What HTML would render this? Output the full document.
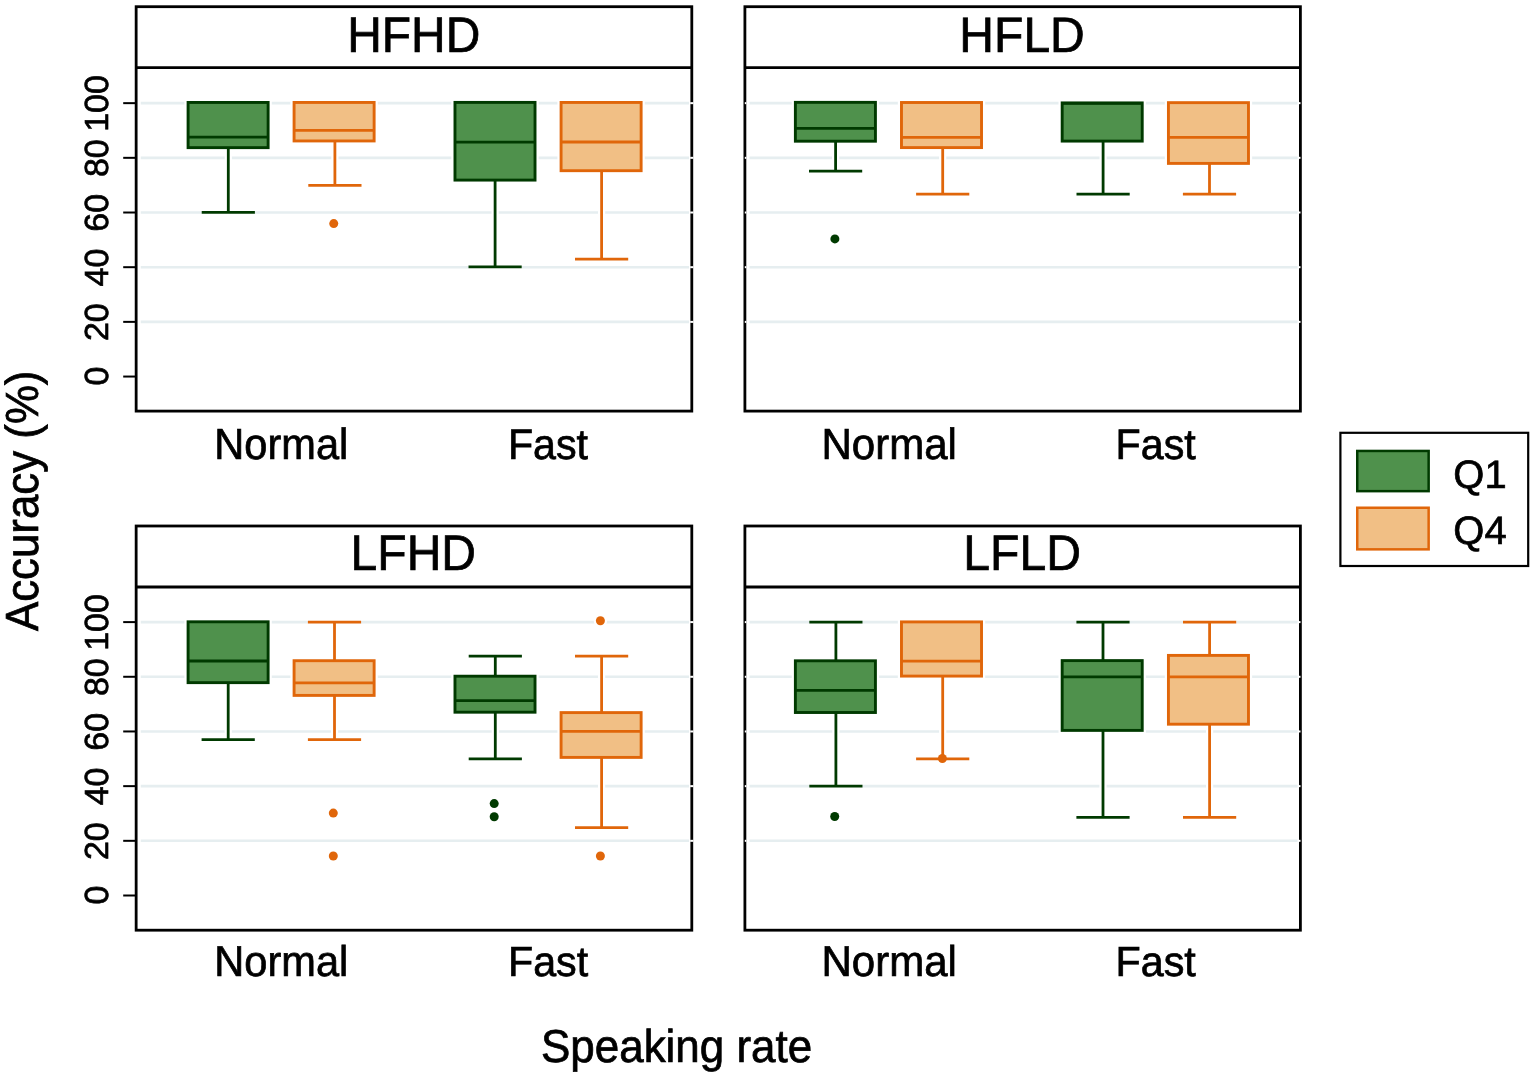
<!DOCTYPE html><html><head><meta charset="utf-8"><title>Accuracy by speaking rate</title>
<style>html,body{margin:0;padding:0;background:#fff;overflow:hidden;}svg{display:block;}text{text-rendering:geometricPrecision;font-family:"Liberation Sans", Arial, Helvetica, sans-serif;fill:#000;stroke:#000;stroke-width:0.7px;}</style></head><body>
<svg width="1535" height="1078" viewBox="0 0 1535 1078">
<rect x="0" y="0" width="1535" height="1078" fill="#fff"/>
<line x1="140.75" y1="321.87" x2="689" y2="321.87" stroke="#e6eef0" stroke-width="2.6"/>
<line x1="140.75" y1="267.19" x2="689" y2="267.19" stroke="#e6eef0" stroke-width="2.6"/>
<line x1="140.75" y1="212.51" x2="689" y2="212.51" stroke="#e6eef0" stroke-width="2.6"/>
<line x1="140.75" y1="157.83" x2="689" y2="157.83" stroke="#e6eef0" stroke-width="2.6"/>
<line x1="140.75" y1="103.15" x2="689" y2="103.15" stroke="#e6eef0" stroke-width="2.6"/>
<line x1="228.3" y1="147.65" x2="228.3" y2="212.4" stroke="#fff" stroke-width="7.2"/>
<line x1="201.7" y1="212.4" x2="254.9" y2="212.4" stroke="#fff" stroke-width="7.2"/>
<rect x="188.075" y="102.45" width="80.05" height="45.2" fill="#fff" stroke="#fff" stroke-width="7.3"/>
<line x1="228.3" y1="147.65" x2="228.3" y2="212.4" stroke="#003a00" stroke-width="2.8"/>
<line x1="201.7" y1="212.4" x2="254.9" y2="212.4" stroke="#003a00" stroke-width="2.8"/>
<rect x="188.075" y="102.45" width="80.05" height="45.2" fill="#4f914c" stroke="#003a00" stroke-width="2.9"/>
<line x1="188.075" y1="137.1" x2="268.125" y2="137.1" stroke="#003a00" stroke-width="2.8"/>
<line x1="334.9" y1="140.95" x2="334.9" y2="185.3" stroke="#fff" stroke-width="7.2"/>
<line x1="308.3" y1="185.3" x2="361.5" y2="185.3" stroke="#fff" stroke-width="7.2"/>
<rect x="294.075" y="102.45" width="80.05" height="38.5" fill="#fff" stroke="#fff" stroke-width="7.3"/>
<circle cx="333.75" cy="223.6" r="6.7" fill="#fff"/>
<line x1="334.9" y1="140.95" x2="334.9" y2="185.3" stroke="#e0660a" stroke-width="2.8"/>
<line x1="308.3" y1="185.3" x2="361.5" y2="185.3" stroke="#e0660a" stroke-width="2.8"/>
<rect x="294.075" y="102.45" width="80.05" height="38.5" fill="#f1bf85" stroke="#e0660a" stroke-width="2.9"/>
<line x1="294.075" y1="130.4" x2="374.125" y2="130.4" stroke="#e0660a" stroke-width="2.8"/>
<circle cx="333.75" cy="223.6" r="4.5" fill="#e0660a"/>
<line x1="495.1" y1="180.1" x2="495.1" y2="266.9" stroke="#fff" stroke-width="7.2"/>
<line x1="468.5" y1="266.9" x2="521.7" y2="266.9" stroke="#fff" stroke-width="7.2"/>
<rect x="454.975" y="102.4" width="80.05" height="77.7" fill="#fff" stroke="#fff" stroke-width="7.3"/>
<line x1="495.1" y1="180.1" x2="495.1" y2="266.9" stroke="#003a00" stroke-width="2.8"/>
<line x1="468.5" y1="266.9" x2="521.7" y2="266.9" stroke="#003a00" stroke-width="2.8"/>
<rect x="454.975" y="102.4" width="80.05" height="77.7" fill="#4f914c" stroke="#003a00" stroke-width="2.9"/>
<line x1="454.975" y1="142.1" x2="535.025" y2="142.1" stroke="#003a00" stroke-width="2.8"/>
<line x1="601.6" y1="170.7" x2="601.6" y2="259.2" stroke="#fff" stroke-width="7.2"/>
<line x1="575" y1="259.2" x2="628.2" y2="259.2" stroke="#fff" stroke-width="7.2"/>
<rect x="561.075" y="102.45" width="80.05" height="68.25" fill="#fff" stroke="#fff" stroke-width="7.3"/>
<line x1="601.6" y1="170.7" x2="601.6" y2="259.2" stroke="#e0660a" stroke-width="2.8"/>
<line x1="575" y1="259.2" x2="628.2" y2="259.2" stroke="#e0660a" stroke-width="2.8"/>
<rect x="561.075" y="102.45" width="80.05" height="68.25" fill="#f1bf85" stroke="#e0660a" stroke-width="2.9"/>
<line x1="561.075" y1="142" x2="641.125" y2="142" stroke="#e0660a" stroke-width="2.8"/>
<rect x="136.15" y="6.7" width="555.65" height="404.4" fill="none" stroke="#000" stroke-width="2.8"/>
<line x1="136.15" y1="67.6" x2="691.8" y2="67.6" stroke="#000" stroke-width="2.8"/>
<rect x="690.2" y="320.87" width="3.2" height="2" fill="#fff"/>
<rect x="690.2" y="266.19" width="3.2" height="2" fill="#fff"/>
<rect x="690.2" y="211.51" width="3.2" height="2" fill="#fff"/>
<rect x="690.2" y="156.83" width="3.2" height="2" fill="#fff"/>
<rect x="690.2" y="102.15" width="3.2" height="2" fill="#fff"/>
<text transform="translate(413.778,52.13) scale(0.998,1.038)" font-size="48" text-anchor="middle">HFHD</text>
<line x1="123.2" y1="376.55" x2="136.15" y2="376.55" stroke="#000" stroke-width="2.0"/>
<text transform="translate(107.908,376.063) rotate(-90) scale(0.998,0.982)" font-size="34" text-anchor="middle">0</text>
<line x1="123.2" y1="321.87" x2="136.15" y2="321.87" stroke="#000" stroke-width="2.0"/>
<text transform="translate(107.908,322.233) rotate(-90) scale(0.998,0.982)" font-size="34" text-anchor="middle">20</text>
<line x1="123.2" y1="267.19" x2="136.15" y2="267.19" stroke="#000" stroke-width="2.0"/>
<text transform="translate(107.908,267.553) rotate(-90) scale(0.998,0.982)" font-size="34" text-anchor="middle">40</text>
<line x1="123.2" y1="212.51" x2="136.15" y2="212.51" stroke="#000" stroke-width="2.0"/>
<text transform="translate(107.908,212.873) rotate(-90) scale(0.998,0.982)" font-size="34" text-anchor="middle">60</text>
<line x1="123.2" y1="157.83" x2="136.15" y2="157.83" stroke="#000" stroke-width="2.0"/>
<text transform="translate(107.908,158.193) rotate(-90) scale(0.998,0.982)" font-size="34" text-anchor="middle">80</text>
<line x1="123.2" y1="103.15" x2="136.15" y2="103.15" stroke="#000" stroke-width="2.0"/>
<text transform="translate(107.908,103.513) rotate(-90) scale(0.998,0.982)" font-size="34" text-anchor="middle">100</text>
<text transform="translate(281.295,458.929) scale(0.989,1.038)" font-size="42" text-anchor="middle">Normal</text>
<text transform="translate(548.006,458.734) scale(0.981,1.016)" font-size="42" text-anchor="middle">Fast</text>
<line x1="749.5" y1="321.87" x2="1297.6" y2="321.87" stroke="#e6eef0" stroke-width="2.6"/>
<line x1="749.5" y1="267.19" x2="1297.6" y2="267.19" stroke="#e6eef0" stroke-width="2.6"/>
<line x1="749.5" y1="212.51" x2="1297.6" y2="212.51" stroke="#e6eef0" stroke-width="2.6"/>
<line x1="749.5" y1="157.83" x2="1297.6" y2="157.83" stroke="#e6eef0" stroke-width="2.6"/>
<line x1="749.5" y1="103.15" x2="1297.6" y2="103.15" stroke="#e6eef0" stroke-width="2.6"/>
<line x1="835.6" y1="141.2" x2="835.6" y2="171.2" stroke="#fff" stroke-width="7.2"/>
<line x1="809" y1="171.2" x2="862.2" y2="171.2" stroke="#fff" stroke-width="7.2"/>
<rect x="795.375" y="102.35" width="80.05" height="38.85" fill="#fff" stroke="#fff" stroke-width="7.3"/>
<circle cx="834.9" cy="238.9" r="6.7" fill="#fff"/>
<line x1="835.6" y1="141.2" x2="835.6" y2="171.2" stroke="#003a00" stroke-width="2.8"/>
<line x1="809" y1="171.2" x2="862.2" y2="171.2" stroke="#003a00" stroke-width="2.8"/>
<rect x="795.375" y="102.35" width="80.05" height="38.85" fill="#4f914c" stroke="#003a00" stroke-width="2.9"/>
<line x1="795.375" y1="128.3" x2="875.425" y2="128.3" stroke="#003a00" stroke-width="2.8"/>
<circle cx="834.9" cy="238.9" r="4.5" fill="#003a00"/>
<line x1="942.7" y1="147.6" x2="942.7" y2="194.2" stroke="#fff" stroke-width="7.2"/>
<line x1="916.1" y1="194.2" x2="969.3" y2="194.2" stroke="#fff" stroke-width="7.2"/>
<rect x="901.475" y="102.5" width="80.05" height="45.1" fill="#fff" stroke="#fff" stroke-width="7.3"/>
<line x1="942.7" y1="147.6" x2="942.7" y2="194.2" stroke="#e0660a" stroke-width="2.8"/>
<line x1="916.1" y1="194.2" x2="969.3" y2="194.2" stroke="#e0660a" stroke-width="2.8"/>
<rect x="901.475" y="102.5" width="80.05" height="45.1" fill="#f1bf85" stroke="#e0660a" stroke-width="2.9"/>
<line x1="901.475" y1="137.3" x2="981.525" y2="137.3" stroke="#e0660a" stroke-width="2.8"/>
<line x1="1103.1" y1="141.1" x2="1103.1" y2="194.2" stroke="#fff" stroke-width="7.2"/>
<line x1="1076.5" y1="194.2" x2="1129.7" y2="194.2" stroke="#fff" stroke-width="7.2"/>
<rect x="1062.175" y="102.9" width="80.05" height="38.2" fill="#fff" stroke="#fff" stroke-width="7.3"/>
<line x1="1103.1" y1="141.1" x2="1103.1" y2="194.2" stroke="#003a00" stroke-width="2.8"/>
<line x1="1076.5" y1="194.2" x2="1129.7" y2="194.2" stroke="#003a00" stroke-width="2.8"/>
<rect x="1062.175" y="102.9" width="80.05" height="38.2" fill="#4f914c" stroke="#003a00" stroke-width="2.9"/>
<line x1="1062.175" y1="103.4" x2="1142.225" y2="103.4" stroke="#003a00" stroke-width="2.8"/>
<line x1="1209.5" y1="163.4" x2="1209.5" y2="194.2" stroke="#fff" stroke-width="7.2"/>
<line x1="1182.9" y1="194.2" x2="1236.1" y2="194.2" stroke="#fff" stroke-width="7.2"/>
<rect x="1168.425" y="102.65" width="80.05" height="60.75" fill="#fff" stroke="#fff" stroke-width="7.3"/>
<line x1="1209.5" y1="163.4" x2="1209.5" y2="194.2" stroke="#e0660a" stroke-width="2.8"/>
<line x1="1182.9" y1="194.2" x2="1236.1" y2="194.2" stroke="#e0660a" stroke-width="2.8"/>
<rect x="1168.425" y="102.65" width="80.05" height="60.75" fill="#f1bf85" stroke="#e0660a" stroke-width="2.9"/>
<line x1="1168.425" y1="137.3" x2="1248.475" y2="137.3" stroke="#e0660a" stroke-width="2.8"/>
<rect x="744.9" y="6.7" width="555.5" height="404.4" fill="none" stroke="#000" stroke-width="2.8"/>
<line x1="744.9" y1="67.6" x2="1300.4" y2="67.6" stroke="#000" stroke-width="2.8"/>
<rect x="1298.8" y="320.87" width="1.7" height="2" fill="#fff"/>
<rect x="744.8" y="320.87" width="1.5" height="2" fill="#fff"/>
<rect x="1298.8" y="266.19" width="1.7" height="2" fill="#fff"/>
<rect x="744.8" y="266.19" width="1.5" height="2" fill="#fff"/>
<rect x="1298.8" y="211.51" width="1.7" height="2" fill="#fff"/>
<rect x="744.8" y="211.51" width="1.5" height="2" fill="#fff"/>
<rect x="1298.8" y="156.83" width="1.7" height="2" fill="#fff"/>
<rect x="744.8" y="156.83" width="1.5" height="2" fill="#fff"/>
<rect x="1298.8" y="102.15" width="1.7" height="2" fill="#fff"/>
<rect x="744.8" y="102.15" width="1.5" height="2" fill="#fff"/>
<text transform="translate(1022.074,52.133) scale(1.001,1.036)" font-size="48" text-anchor="middle">HFLD</text>
<text transform="translate(889.186,458.929) scale(1.001,1.038)" font-size="42" text-anchor="middle">Normal</text>
<text transform="translate(1155.681,458.734) scale(0.981,1.016)" font-size="42" text-anchor="middle">Fast</text>
<line x1="140.75" y1="840.82" x2="689" y2="840.82" stroke="#e6eef0" stroke-width="2.6"/>
<line x1="140.75" y1="786.14" x2="689" y2="786.14" stroke="#e6eef0" stroke-width="2.6"/>
<line x1="140.75" y1="731.46" x2="689" y2="731.46" stroke="#e6eef0" stroke-width="2.6"/>
<line x1="140.75" y1="676.78" x2="689" y2="676.78" stroke="#e6eef0" stroke-width="2.6"/>
<line x1="140.75" y1="622.1" x2="689" y2="622.1" stroke="#e6eef0" stroke-width="2.6"/>
<line x1="228.2" y1="682.65" x2="228.2" y2="739.6" stroke="#fff" stroke-width="7.2"/>
<line x1="201.6" y1="739.6" x2="254.8" y2="739.6" stroke="#fff" stroke-width="7.2"/>
<rect x="188.075" y="621.8" width="80.05" height="60.85" fill="#fff" stroke="#fff" stroke-width="7.3"/>
<line x1="228.2" y1="682.65" x2="228.2" y2="739.6" stroke="#003a00" stroke-width="2.8"/>
<line x1="201.6" y1="739.6" x2="254.8" y2="739.6" stroke="#003a00" stroke-width="2.8"/>
<rect x="188.075" y="621.8" width="80.05" height="60.85" fill="#4f914c" stroke="#003a00" stroke-width="2.9"/>
<line x1="188.075" y1="661" x2="268.125" y2="661" stroke="#003a00" stroke-width="2.8"/>
<line x1="334.5" y1="622.1" x2="334.5" y2="660.7" stroke="#fff" stroke-width="7.2"/>
<line x1="307.9" y1="622.1" x2="361.1" y2="622.1" stroke="#fff" stroke-width="7.2"/>
<line x1="334.5" y1="695.4" x2="334.5" y2="739.6" stroke="#fff" stroke-width="7.2"/>
<line x1="307.9" y1="739.6" x2="361.1" y2="739.6" stroke="#fff" stroke-width="7.2"/>
<rect x="294.075" y="660.7" width="80.05" height="34.7" fill="#fff" stroke="#fff" stroke-width="7.3"/>
<circle cx="333.3" cy="813.1" r="6.7" fill="#fff"/>
<circle cx="333.3" cy="856" r="6.7" fill="#fff"/>
<line x1="334.5" y1="622.1" x2="334.5" y2="660.7" stroke="#e0660a" stroke-width="2.8"/>
<line x1="307.9" y1="622.1" x2="361.1" y2="622.1" stroke="#e0660a" stroke-width="2.8"/>
<line x1="334.5" y1="695.4" x2="334.5" y2="739.6" stroke="#e0660a" stroke-width="2.8"/>
<line x1="307.9" y1="739.6" x2="361.1" y2="739.6" stroke="#e0660a" stroke-width="2.8"/>
<rect x="294.075" y="660.7" width="80.05" height="34.7" fill="#f1bf85" stroke="#e0660a" stroke-width="2.9"/>
<line x1="294.075" y1="682.9" x2="374.125" y2="682.9" stroke="#e0660a" stroke-width="2.8"/>
<circle cx="333.3" cy="813.1" r="4.5" fill="#e0660a"/>
<circle cx="333.3" cy="856" r="4.5" fill="#e0660a"/>
<line x1="495.3" y1="656.1" x2="495.3" y2="676.2" stroke="#fff" stroke-width="7.2"/>
<line x1="468.7" y1="656.1" x2="521.9" y2="656.1" stroke="#fff" stroke-width="7.2"/>
<line x1="495.3" y1="712.2" x2="495.3" y2="758.85" stroke="#fff" stroke-width="7.2"/>
<line x1="468.7" y1="758.85" x2="521.9" y2="758.85" stroke="#fff" stroke-width="7.2"/>
<rect x="454.975" y="676.2" width="80.05" height="36" fill="#fff" stroke="#fff" stroke-width="7.3"/>
<circle cx="494.2" cy="803.6" r="6.7" fill="#fff"/>
<circle cx="494.2" cy="816.8" r="6.7" fill="#fff"/>
<line x1="495.3" y1="656.1" x2="495.3" y2="676.2" stroke="#003a00" stroke-width="2.8"/>
<line x1="468.7" y1="656.1" x2="521.9" y2="656.1" stroke="#003a00" stroke-width="2.8"/>
<line x1="495.3" y1="712.2" x2="495.3" y2="758.85" stroke="#003a00" stroke-width="2.8"/>
<line x1="468.7" y1="758.85" x2="521.9" y2="758.85" stroke="#003a00" stroke-width="2.8"/>
<rect x="454.975" y="676.2" width="80.05" height="36" fill="#4f914c" stroke="#003a00" stroke-width="2.9"/>
<line x1="454.975" y1="700.55" x2="535.025" y2="700.55" stroke="#003a00" stroke-width="2.8"/>
<circle cx="494.2" cy="803.6" r="4.5" fill="#003a00"/>
<circle cx="494.2" cy="816.8" r="4.5" fill="#003a00"/>
<line x1="601.6" y1="656.1" x2="601.6" y2="712.6" stroke="#fff" stroke-width="7.2"/>
<line x1="575" y1="656.1" x2="628.2" y2="656.1" stroke="#fff" stroke-width="7.2"/>
<line x1="601.6" y1="757.4" x2="601.6" y2="827.6" stroke="#fff" stroke-width="7.2"/>
<line x1="575" y1="827.6" x2="628.2" y2="827.6" stroke="#fff" stroke-width="7.2"/>
<rect x="561.075" y="712.6" width="80.05" height="44.8" fill="#fff" stroke="#fff" stroke-width="7.3"/>
<circle cx="600.4" cy="620.8" r="6.7" fill="#fff"/>
<circle cx="600.4" cy="856" r="6.7" fill="#fff"/>
<line x1="601.6" y1="656.1" x2="601.6" y2="712.6" stroke="#e0660a" stroke-width="2.8"/>
<line x1="575" y1="656.1" x2="628.2" y2="656.1" stroke="#e0660a" stroke-width="2.8"/>
<line x1="601.6" y1="757.4" x2="601.6" y2="827.6" stroke="#e0660a" stroke-width="2.8"/>
<line x1="575" y1="827.6" x2="628.2" y2="827.6" stroke="#e0660a" stroke-width="2.8"/>
<rect x="561.075" y="712.6" width="80.05" height="44.8" fill="#f1bf85" stroke="#e0660a" stroke-width="2.9"/>
<line x1="561.075" y1="731.4" x2="641.125" y2="731.4" stroke="#e0660a" stroke-width="2.8"/>
<circle cx="600.4" cy="620.8" r="4.5" fill="#e0660a"/>
<circle cx="600.4" cy="856" r="4.5" fill="#e0660a"/>
<rect x="136.15" y="526" width="555.65" height="404.2" fill="none" stroke="#000" stroke-width="2.8"/>
<line x1="136.15" y1="587" x2="691.8" y2="587" stroke="#000" stroke-width="2.8"/>
<rect x="690.2" y="839.82" width="3.2" height="2" fill="#fff"/>
<rect x="690.2" y="785.14" width="3.2" height="2" fill="#fff"/>
<rect x="690.2" y="730.46" width="3.2" height="2" fill="#fff"/>
<rect x="690.2" y="675.78" width="3.2" height="2" fill="#fff"/>
<rect x="690.2" y="621.1" width="3.2" height="2" fill="#fff"/>
<text transform="translate(413.303,570.13) scale(1.001,1.038)" font-size="48" text-anchor="middle">LFHD</text>
<line x1="123.2" y1="895.5" x2="136.15" y2="895.5" stroke="#000" stroke-width="2.0"/>
<text transform="translate(107.908,895.013) rotate(-90) scale(0.998,0.982)" font-size="34" text-anchor="middle">0</text>
<line x1="123.2" y1="840.82" x2="136.15" y2="840.82" stroke="#000" stroke-width="2.0"/>
<text transform="translate(107.908,841.183) rotate(-90) scale(0.998,0.982)" font-size="34" text-anchor="middle">20</text>
<line x1="123.2" y1="786.14" x2="136.15" y2="786.14" stroke="#000" stroke-width="2.0"/>
<text transform="translate(107.908,786.503) rotate(-90) scale(0.998,0.982)" font-size="34" text-anchor="middle">40</text>
<line x1="123.2" y1="731.46" x2="136.15" y2="731.46" stroke="#000" stroke-width="2.0"/>
<text transform="translate(107.908,731.823) rotate(-90) scale(0.998,0.982)" font-size="34" text-anchor="middle">60</text>
<line x1="123.2" y1="676.78" x2="136.15" y2="676.78" stroke="#000" stroke-width="2.0"/>
<text transform="translate(107.908,677.143) rotate(-90) scale(0.998,0.982)" font-size="34" text-anchor="middle">80</text>
<line x1="123.2" y1="622.1" x2="136.15" y2="622.1" stroke="#000" stroke-width="2.0"/>
<text transform="translate(107.908,622.463) rotate(-90) scale(0.998,0.982)" font-size="34" text-anchor="middle">100</text>
<text transform="translate(281.301,976.327) scale(0.989,1.023)" font-size="42" text-anchor="middle">Normal</text>
<text transform="translate(548.041,976.351) scale(0.982,1.002)" font-size="42" text-anchor="middle">Fast</text>
<line x1="749.5" y1="840.82" x2="1297.6" y2="840.82" stroke="#e6eef0" stroke-width="2.6"/>
<line x1="749.5" y1="786.14" x2="1297.6" y2="786.14" stroke="#e6eef0" stroke-width="2.6"/>
<line x1="749.5" y1="731.46" x2="1297.6" y2="731.46" stroke="#e6eef0" stroke-width="2.6"/>
<line x1="749.5" y1="676.78" x2="1297.6" y2="676.78" stroke="#e6eef0" stroke-width="2.6"/>
<line x1="749.5" y1="622.1" x2="1297.6" y2="622.1" stroke="#e6eef0" stroke-width="2.6"/>
<line x1="835.9" y1="622.1" x2="835.9" y2="660.8" stroke="#fff" stroke-width="7.2"/>
<line x1="809.3" y1="622.1" x2="862.5" y2="622.1" stroke="#fff" stroke-width="7.2"/>
<line x1="835.9" y1="712.5" x2="835.9" y2="786.1" stroke="#fff" stroke-width="7.2"/>
<line x1="809.3" y1="786.1" x2="862.5" y2="786.1" stroke="#fff" stroke-width="7.2"/>
<rect x="795.375" y="660.8" width="80.05" height="51.7" fill="#fff" stroke="#fff" stroke-width="7.3"/>
<circle cx="834.7" cy="816.5" r="6.7" fill="#fff"/>
<line x1="835.9" y1="622.1" x2="835.9" y2="660.8" stroke="#003a00" stroke-width="2.8"/>
<line x1="809.3" y1="622.1" x2="862.5" y2="622.1" stroke="#003a00" stroke-width="2.8"/>
<line x1="835.9" y1="712.5" x2="835.9" y2="786.1" stroke="#003a00" stroke-width="2.8"/>
<line x1="809.3" y1="786.1" x2="862.5" y2="786.1" stroke="#003a00" stroke-width="2.8"/>
<rect x="795.375" y="660.8" width="80.05" height="51.7" fill="#4f914c" stroke="#003a00" stroke-width="2.9"/>
<line x1="795.375" y1="690.35" x2="875.425" y2="690.35" stroke="#003a00" stroke-width="2.8"/>
<circle cx="834.7" cy="816.5" r="4.5" fill="#003a00"/>
<line x1="942.7" y1="676.1" x2="942.7" y2="758.8" stroke="#fff" stroke-width="7.2"/>
<line x1="916.1" y1="758.8" x2="969.3" y2="758.8" stroke="#fff" stroke-width="7.2"/>
<rect x="901.475" y="621.9" width="80.05" height="54.2" fill="#fff" stroke="#fff" stroke-width="7.3"/>
<circle cx="942.4" cy="758.5" r="6.7" fill="#fff"/>
<line x1="942.7" y1="676.1" x2="942.7" y2="758.8" stroke="#e0660a" stroke-width="2.8"/>
<line x1="916.1" y1="758.8" x2="969.3" y2="758.8" stroke="#e0660a" stroke-width="2.8"/>
<rect x="901.475" y="621.9" width="80.05" height="54.2" fill="#f1bf85" stroke="#e0660a" stroke-width="2.9"/>
<line x1="901.475" y1="661.1" x2="981.525" y2="661.1" stroke="#e0660a" stroke-width="2.8"/>
<circle cx="942.4" cy="758.5" r="4.5" fill="#e0660a"/>
<line x1="1103" y1="622.1" x2="1103" y2="660.6" stroke="#fff" stroke-width="7.2"/>
<line x1="1076.4" y1="622.1" x2="1129.6" y2="622.1" stroke="#fff" stroke-width="7.2"/>
<line x1="1103" y1="730.4" x2="1103" y2="817.3" stroke="#fff" stroke-width="7.2"/>
<line x1="1076.4" y1="817.3" x2="1129.6" y2="817.3" stroke="#fff" stroke-width="7.2"/>
<rect x="1062.175" y="660.6" width="80.05" height="69.8" fill="#fff" stroke="#fff" stroke-width="7.3"/>
<line x1="1103" y1="622.1" x2="1103" y2="660.6" stroke="#003a00" stroke-width="2.8"/>
<line x1="1076.4" y1="622.1" x2="1129.6" y2="622.1" stroke="#003a00" stroke-width="2.8"/>
<line x1="1103" y1="730.4" x2="1103" y2="817.3" stroke="#003a00" stroke-width="2.8"/>
<line x1="1076.4" y1="817.3" x2="1129.6" y2="817.3" stroke="#003a00" stroke-width="2.8"/>
<rect x="1062.175" y="660.6" width="80.05" height="69.8" fill="#4f914c" stroke="#003a00" stroke-width="2.9"/>
<line x1="1062.175" y1="676.8" x2="1142.225" y2="676.8" stroke="#003a00" stroke-width="2.8"/>
<line x1="1209.6" y1="622.1" x2="1209.6" y2="655.4" stroke="#fff" stroke-width="7.2"/>
<line x1="1183" y1="622.1" x2="1236.2" y2="622.1" stroke="#fff" stroke-width="7.2"/>
<line x1="1209.6" y1="724.2" x2="1209.6" y2="817.3" stroke="#fff" stroke-width="7.2"/>
<line x1="1183" y1="817.3" x2="1236.2" y2="817.3" stroke="#fff" stroke-width="7.2"/>
<rect x="1168.425" y="655.4" width="80.05" height="68.8" fill="#fff" stroke="#fff" stroke-width="7.3"/>
<line x1="1209.6" y1="622.1" x2="1209.6" y2="655.4" stroke="#e0660a" stroke-width="2.8"/>
<line x1="1183" y1="622.1" x2="1236.2" y2="622.1" stroke="#e0660a" stroke-width="2.8"/>
<line x1="1209.6" y1="724.2" x2="1209.6" y2="817.3" stroke="#e0660a" stroke-width="2.8"/>
<line x1="1183" y1="817.3" x2="1236.2" y2="817.3" stroke="#e0660a" stroke-width="2.8"/>
<rect x="1168.425" y="655.4" width="80.05" height="68.8" fill="#f1bf85" stroke="#e0660a" stroke-width="2.9"/>
<line x1="1168.425" y1="676.9" x2="1248.475" y2="676.9" stroke="#e0660a" stroke-width="2.8"/>
<rect x="744.9" y="526" width="555.5" height="404.2" fill="none" stroke="#000" stroke-width="2.8"/>
<line x1="744.9" y1="587" x2="1300.4" y2="587" stroke="#000" stroke-width="2.8"/>
<rect x="1298.8" y="839.82" width="1.7" height="2" fill="#fff"/>
<rect x="744.8" y="839.82" width="1.5" height="2" fill="#fff"/>
<rect x="1298.8" y="785.14" width="1.7" height="2" fill="#fff"/>
<rect x="744.8" y="785.14" width="1.5" height="2" fill="#fff"/>
<rect x="1298.8" y="730.46" width="1.7" height="2" fill="#fff"/>
<rect x="744.8" y="730.46" width="1.5" height="2" fill="#fff"/>
<rect x="1298.8" y="675.78" width="1.7" height="2" fill="#fff"/>
<rect x="744.8" y="675.78" width="1.5" height="2" fill="#fff"/>
<rect x="1298.8" y="621.1" width="1.7" height="2" fill="#fff"/>
<rect x="744.8" y="621.1" width="1.5" height="2" fill="#fff"/>
<text transform="translate(1022.13,570.13) scale(1.003,1.038)" font-size="48" text-anchor="middle">LFLD</text>
<text transform="translate(889.143,976.326) scale(1.001,1.024)" font-size="42" text-anchor="middle">Normal</text>
<text transform="translate(1155.655,976.351) scale(0.983,1.002)" font-size="42" text-anchor="middle">Fast</text>
<text transform="translate(38.445,500.83) rotate(-90) scale(0.996,1.056)" font-size="44" text-anchor="middle">Accuracy (%)</text>
<text transform="translate(676.602,1062.342) scale(0.999,1.047)" font-size="44" text-anchor="middle">Speaking rate</text>
<rect x="1340.4" y="432.8" width="187.8" height="133.2" fill="#fff" stroke="#000" stroke-width="2.2"/>
<rect x="1357.25" y="450.95" width="71.4" height="40.2" fill="#4f914c" stroke="#003a00" stroke-width="2.5"/>
<rect x="1357.25" y="507.75" width="71.4" height="41.6" fill="#f1bf85" stroke="#e0660a" stroke-width="2.5"/>
<text transform="translate(1453.301,487.746) scale(0.975,0.967)" font-size="41" text-anchor="start">Q1</text>
<text transform="translate(1453.301,544.246) scale(0.975,0.967)" font-size="41" text-anchor="start">Q4</text>
</svg></body></html>
